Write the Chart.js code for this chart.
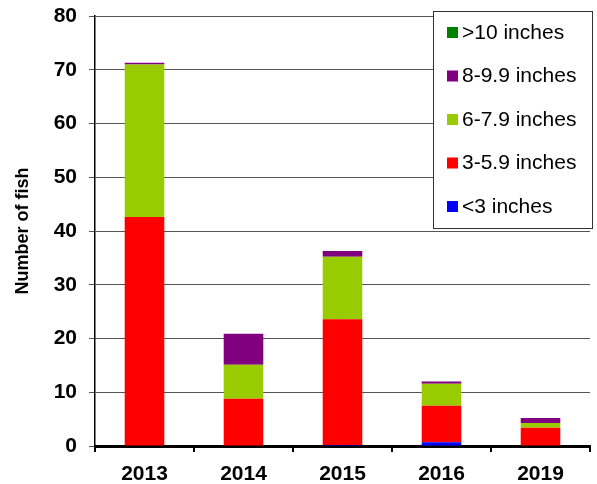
<!DOCTYPE html>
<html>
<head>
<meta charset="utf-8">
<script src="https://cdn.jsdelivr.net/npm/chart.js@4/dist/chart.umd.min.js"></script>
<style>
  html, body { margin: 0; padding: 0; background: #fff; }
  #wrap { width: 597px; height: 484px; }
</style>
</head>
<body>
<div id="wrap"><canvas id="myChart" width="597" height="484"></canvas></div>
<script>
const years = ["2013", "2014", "2015", "2016", "2019"];
const under3 = [0, 0, 0.2, 0.7, 0];
const size3to5 = [42.6, 8.8, 23.4, 6.8, 3.4];
const size6to7 = [28.4, 6.3, 11.6, 4.1, 0.9];
const size8to9 = [0.3, 5.8, 1.1, 0.4, 0.9];
const over10 = [0, 0, 0, 0, 0];
const yTicks = [0, 10, 20, 30, 40, 50, 60, 70, 80];

const FONT = "Arial, 'Liberation Sans', sans-serif";

// legend box drawn inside the plot, top series first
const boxLegend = {
  id: "boxLegend",
  afterDraw(chart) {
    const ctx = chart.ctx;
    const x = 433, y = 11, w = 159, h = 217;
    ctx.save();
    ctx.fillStyle = "#fff";
    ctx.fillRect(x, y, w, h);
    ctx.strokeStyle = "#333";
    ctx.lineWidth = 1;
    ctx.strokeRect(x + 0.5, y + 0.5, w, h);
    ctx.font = "21px " + FONT;
    ctx.textBaseline = "middle";
    const sets = chart.data.datasets.slice().reverse();
    sets.forEach((ds, i) => {
      const cy = 32 + i * 43.5;
      ctx.fillStyle = ds.backgroundColor;
      ctx.fillRect(447, cy - 5, 11, 11);
      ctx.fillStyle = "#000";
      ctx.fillText(ds.label, 462, cy + 1);
    });
    ctx.restore();
  }
};

const ctx = document.getElementById("myChart").getContext("2d");
const myChart = new Chart(ctx, {
  type: "bar",
  data: {
    labels: years,
    datasets: [
      { label: "<3 inches", data: under3, backgroundColor: "#0000FF" },
      { label: "3-5.9 inches", data: size3to5, backgroundColor: "#FF0000" },
      { label: "6-7.9 inches", data: size6to7, backgroundColor: "#99CC00" },
      { label: "8-9.9 inches", data: size8to9, backgroundColor: "#800080" },
      { label: ">10 inches", data: over10, backgroundColor: "#008000" },
    ],
  },
  options: {
    responsive: false,
    animation: false,
    layout: { padding: { top: 16, right: 7, left: 0, bottom: 0 } },
    datasets: { bar: { categoryPercentage: 1, barPercentage: 0.4 } },
    plugins: { legend: { display: false }, tooltip: { enabled: false } },
    scales: {
      x: {
        stacked: true,
        afterFit: (s) => { s.height = 38; s.paddingLeft = 0; s.paddingRight = 0; },
        border: { color: "#000", width: 3 },
        grid: { offset: true, drawOnChartArea: false, color: "#000", lineWidth: 2, tickLength: 6 },
        ticks: { color: "#000", padding: 10, font: { family: FONT, size: 21, weight: "bold" } },
      },
      y: {
        stacked: true,
        min: 0,
        max: 80,
        afterFit: (s) => { s.width = 95; s.paddingTop = 0; s.paddingBottom = 0; },
        afterBuildTicks: (s) => { s.ticks = yTicks.map((v) => ({ value: v })); },
        border: { color: "#000", width: 1.5 },
        grid: { color: "#555", lineWidth: 1, tickLength: 6 },
        ticks: { color: "#000", padding: 12, font: { family: FONT, size: 21, weight: "bold" } },
        title: {
          display: true,
          text: "Number of fish",
          color: "#000",
          padding: { top: 12, bottom: 0 },
          font: { family: FONT, size: 18, weight: "bold" },
        },
      },
    },
  },
  plugins: [boxLegend],
});
</script>
</body>
</html>
